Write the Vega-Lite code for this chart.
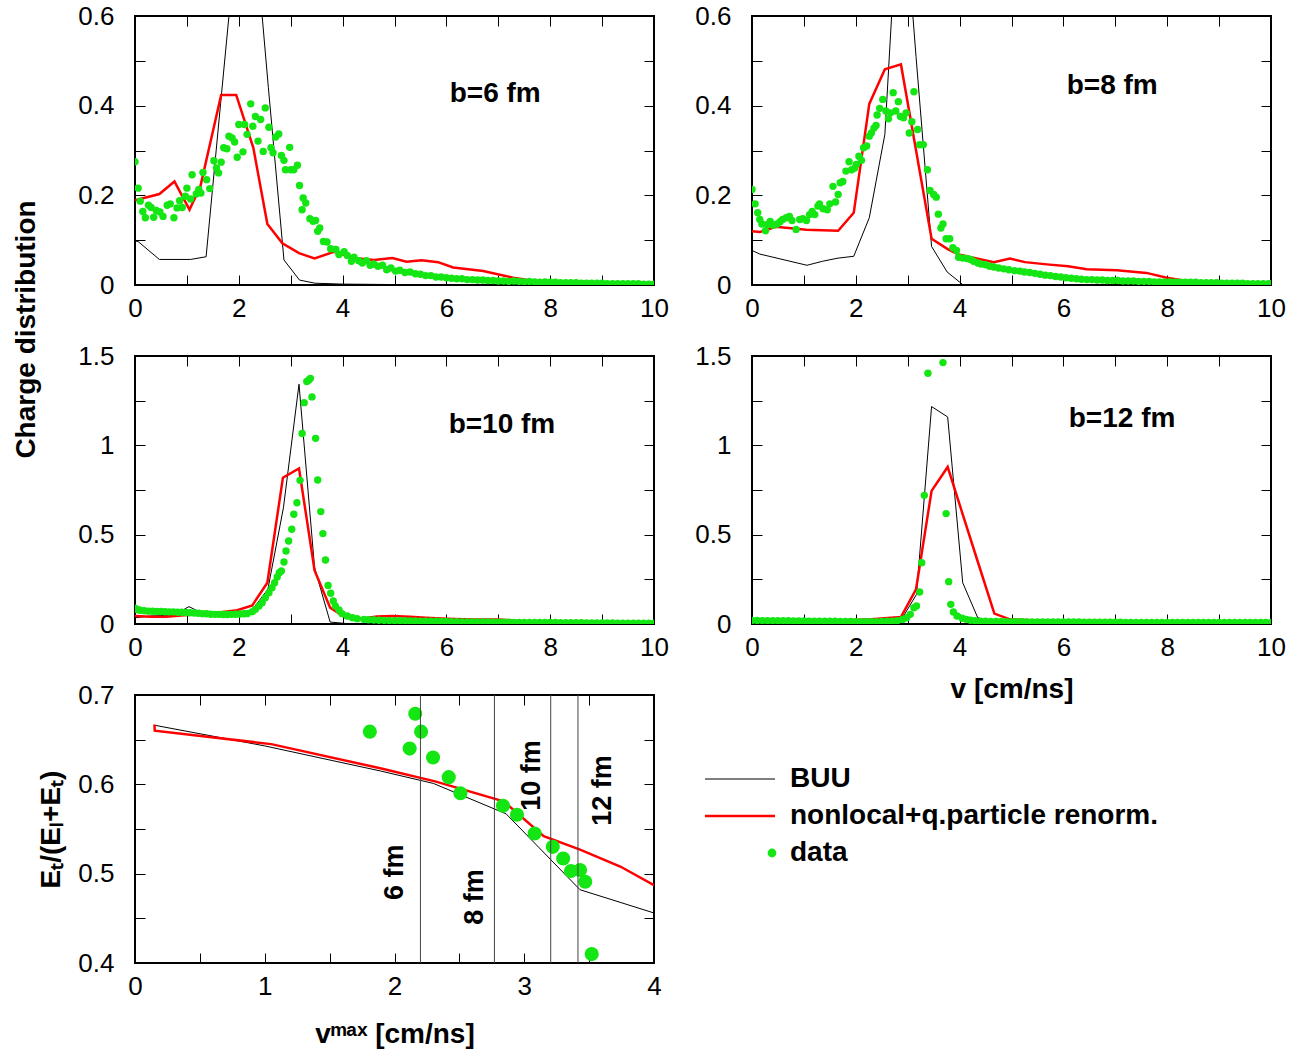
{
"$schema":"https://vega.github.io/schema/vega-lite/v6.json",
"background":"white",
"padding":{"left":11,"top":2,"right":5,"bottom":5},
"config":{
 "font":"Liberation Sans",
 "view":{"stroke":"black","strokeWidth":2},
 "axis":{"grid":false,"domain":false,"ticks":true,"tickColor":"black","tickWidth":1,"tickSize":-10,"labelFont":"Liberation Sans","labelFontSize":26,"labelColor":"black","labelFlush":false,"labelOverlap":false,"labelPadding":20,"titleFont":"Liberation Sans","titleFontSize":28,"titleFontWeight":"bold","titleColor":"black"},
 "axisY":{"labelPadding":31},
 "text":{"font":"Liberation Sans","color":"black"}
},
"datasets":{
 "b6b":[{"x":0,"y":0.099},{"x":0.07,"y":0.096},{"x":0.47,"y":0.057},{"x":1.07,"y":0.057},{"x":1.37,"y":0.063},{"x":1.67,"y":0.43},{"x":1.81,"y":0.6},{"x":2.45,"y":0.6},{"x":2.57,"y":0.44},{"x":2.87,"y":0.056},{"x":3.17,"y":0.011},{"x":3.47,"y":0.004},{"x":4.0,"y":0.002},{"x":5,"y":0.001},{"x":6,"y":0.001},{"x":7,"y":0.001},{"x":8,"y":0.001},{"x":9,"y":0.001},{"x":10,"y":0.001}],
 "b6m":[{"x":0,"y":0.189},{"x":0.47,"y":0.203},{"x":0.76,"y":0.231},{"x":1.05,"y":0.168},{"x":1.26,"y":0.22},{"x":1.66,"y":0.424},{"x":1.95,"y":0.424},{"x":2.28,"y":0.306},{"x":2.55,"y":0.136},{"x":2.84,"y":0.093},{"x":3.16,"y":0.071},{"x":3.46,"y":0.059},{"x":3.83,"y":0.074},{"x":4.22,"y":0.06},{"x":4.6,"y":0.056},{"x":4.96,"y":0.06},{"x":5.23,"y":0.052},{"x":5.52,"y":0.055},{"x":5.84,"y":0.051},{"x":6.13,"y":0.039},{"x":6.71,"y":0.031},{"x":7.29,"y":0.016},{"x":7.74,"y":0.008},{"x":8.2,"y":0.004},{"x":9,"y":0.003},{"x":10,"y":0.003}],
 "b6d":[{"x":0,"y":0.275},{"x":0.06,"y":0.216},{"x":0.1,"y":0.187},{"x":0.15,"y":0.164},{"x":0.2,"y":0.15},{"x":0.26,"y":0.178},{"x":0.31,"y":0.173},{"x":0.36,"y":0.151},{"x":0.41,"y":0.166},{"x":0.48,"y":0.163},{"x":0.54,"y":0.153},{"x":0.62,"y":0.178},{"x":0.68,"y":0.181},{"x":0.75,"y":0.15},{"x":0.81,"y":0.172},{"x":0.86,"y":0.188},{"x":0.91,"y":0.173},{"x":0.97,"y":0.198},{"x":1.0,"y":0.216},{"x":1.07,"y":0.192},{"x":1.1,"y":0.246},{"x":1.18,"y":0.203},{"x":1.23,"y":0.213},{"x":1.27,"y":0.205},{"x":1.31,"y":0.251},{"x":1.38,"y":0.235},{"x":1.44,"y":0.215},{"x":1.52,"y":0.277},{"x":1.57,"y":0.261},{"x":1.61,"y":0.25},{"x":1.66,"y":0.274},{"x":1.71,"y":0.306},{"x":1.77,"y":0.304},{"x":1.81,"y":0.332},{"x":1.87,"y":0.328},{"x":1.92,"y":0.319},{"x":1.97,"y":0.285},{"x":2.0,"y":0.358},{"x":2.08,"y":0.297},{"x":2.11,"y":0.358},{"x":2.16,"y":0.336},{"x":2.23,"y":0.404},{"x":2.27,"y":0.354},{"x":2.32,"y":0.376},{"x":2.37,"y":0.321},{"x":2.42,"y":0.369},{"x":2.47,"y":0.298},{"x":2.51,"y":0.395},{"x":2.58,"y":0.352},{"x":2.62,"y":0.306},{"x":2.66,"y":0.295},{"x":2.71,"y":0.33},{"x":2.77,"y":0.337},{"x":2.82,"y":0.289},{"x":2.87,"y":0.278},{"x":2.9,"y":0.257},{"x":2.98,"y":0.307},{"x":3.0,"y":0.257},{"x":3.06,"y":0.257},{"x":3.13,"y":0.267},{"x":3.17,"y":0.222},{"x":3.22,"y":0.168},{"x":3.24,"y":0.194},{"x":3.29,"y":0.183},{"x":3.37,"y":0.148},{"x":3.43,"y":0.142},{"x":3.48,"y":0.144},{"x":3.52,"y":0.12},{"x":3.56,"y":0.127},{"x":3.63,"y":0.097},{"x":3.7,"y":0.096},{"x":3.77,"y":0.081},{"x":3.87,"y":0.079},{"x":3.93,"y":0.068},{"x":4.03,"y":0.074},{"x":4.09,"y":0.066},{"x":4.17,"y":0.053},{"x":4.22,"y":0.062},{"x":4.31,"y":0.054},{"x":4.38,"y":0.049},{"x":4.46,"y":0.054},{"x":4.53,"y":0.044},{"x":4.6,"y":0.047},{"x":4.68,"y":0.042},{"x":4.77,"y":0.044},{"x":4.85,"y":0.034},{"x":4.93,"y":0.038},{"x":5.02,"y":0.031},{"x":5.1,"y":0.033},{"x":5.2,"y":0.028},{"x":5.3,"y":0.029},{"x":5.4,"y":0.025},{"x":5.5,"y":0.024},{"x":5.6,"y":0.021},{"x":5.7,"y":0.021},{"x":5.8,"y":0.018},{"x":5.9,"y":0.018},{"x":6.0,"y":0.016},{"x":6.1,"y":0.015},{"x":6.2,"y":0.014},{"x":6.3,"y":0.014},{"x":6.4,"y":0.012},{"x":6.5,"y":0.012},{"x":6.6,"y":0.011},{"x":6.7,"y":0.011},{"x":6.8,"y":0.01},{"x":6.9,"y":0.01},{"x":7.0,"y":0.009},{"x":7.1,"y":0.009},{"x":7.2,"y":0.008},{"x":7.3,"y":0.009},{"x":7.4,"y":0.008},{"x":7.5,"y":0.007},{"x":7.6,"y":0.008},{"x":7.7,"y":0.007},{"x":7.8,"y":0.006},{"x":7.9,"y":0.007},{"x":8.0,"y":0.006},{"x":8.1,"y":0.006},{"x":8.2,"y":0.005},{"x":8.3,"y":0.005},{"x":8.4,"y":0.005},{"x":8.5,"y":0.005},{"x":8.6,"y":0.004},{"x":8.7,"y":0.004},{"x":8.8,"y":0.004},{"x":8.9,"y":0.004},{"x":9.0,"y":0.004},{"x":9.1,"y":0.003},{"x":9.2,"y":0.003},{"x":9.3,"y":0.003},{"x":9.4,"y":0.003},{"x":9.5,"y":0.003},{"x":9.6,"y":0.003},{"x":9.7,"y":0.003},{"x":9.8,"y":0.002},{"x":9.9,"y":0.002},{"x":10.0,"y":0.002}],
 "b8b":[{"x":0,"y":0.077},{"x":0.15,"y":0.069},{"x":1.06,"y":0.044},{"x":1.36,"y":0.053},{"x":1.66,"y":0.06},{"x":1.96,"y":0.064},{"x":2.26,"y":0.15},{"x":2.56,"y":0.336},{"x":2.69,"y":0.6},{"x":3.1,"y":0.6},{"x":3.16,"y":0.51},{"x":3.46,"y":0.086},{"x":3.76,"y":0.029},{"x":4.06,"y":0.001},{"x":5,"y":0.001},{"x":6,"y":0.001},{"x":7,"y":0.001},{"x":8,"y":0.001},{"x":9,"y":0.001},{"x":10,"y":0.001}],
 "b8m":[{"x":0,"y":0.12},{"x":0.15,"y":0.118},{"x":0.46,"y":0.13},{"x":1.05,"y":0.123},{"x":1.66,"y":0.121},{"x":1.96,"y":0.161},{"x":2.26,"y":0.404},{"x":2.56,"y":0.481},{"x":2.87,"y":0.492},{"x":3.46,"y":0.103},{"x":3.77,"y":0.08},{"x":3.98,"y":0.068},{"x":4.66,"y":0.051},{"x":4.97,"y":0.059},{"x":5.26,"y":0.051},{"x":5.68,"y":0.046},{"x":6.09,"y":0.042},{"x":6.45,"y":0.035},{"x":7.03,"y":0.033},{"x":7.6,"y":0.027},{"x":7.99,"y":0.016},{"x":8.31,"y":0.01},{"x":8.8,"y":0.004},{"x":10,"y":0.003}],
 "b8d":[{"x":0,"y":0.213},{"x":0.06,"y":0.181},{"x":0.11,"y":0.161},{"x":0.15,"y":0.146},{"x":0.19,"y":0.136},{"x":0.26,"y":0.121},{"x":0.3,"y":0.135},{"x":0.35,"y":0.142},{"x":0.41,"y":0.133},{"x":0.48,"y":0.136},{"x":0.54,"y":0.141},{"x":0.59,"y":0.146},{"x":0.66,"y":0.15},{"x":0.72,"y":0.153},{"x":0.77,"y":0.144},{"x":0.85,"y":0.124},{"x":0.92,"y":0.146},{"x":0.98,"y":0.148},{"x":1.05,"y":0.144},{"x":1.11,"y":0.157},{"x":1.16,"y":0.164},{"x":1.21,"y":0.157},{"x":1.27,"y":0.176},{"x":1.3,"y":0.181},{"x":1.37,"y":0.17},{"x":1.45,"y":0.168},{"x":1.5,"y":0.181},{"x":1.56,"y":0.22},{"x":1.61,"y":0.185},{"x":1.66,"y":0.202},{"x":1.7,"y":0.228},{"x":1.75,"y":0.231},{"x":1.81,"y":0.254},{"x":1.87,"y":0.275},{"x":1.92,"y":0.257},{"x":1.98,"y":0.261},{"x":2.01,"y":0.269},{"x":2.06,"y":0.287},{"x":2.11,"y":0.278},{"x":2.15,"y":0.306},{"x":2.21,"y":0.31},{"x":2.26,"y":0.332},{"x":2.3,"y":0.339},{"x":2.35,"y":0.35},{"x":2.39,"y":0.356},{"x":2.41,"y":0.379},{"x":2.46,"y":0.394},{"x":2.52,"y":0.414},{"x":2.58,"y":0.388},{"x":2.63,"y":0.371},{"x":2.67,"y":0.384},{"x":2.72,"y":0.429},{"x":2.77,"y":0.388},{"x":2.82,"y":0.409},{"x":2.86,"y":0.376},{"x":2.92,"y":0.373},{"x":2.97,"y":0.384},{"x":3.03,"y":0.339},{"x":3.08,"y":0.364},{"x":3.12,"y":0.431},{"x":3.19,"y":0.347},{"x":3.23,"y":0.313},{"x":3.3,"y":0.313},{"x":3.38,"y":0.257},{"x":3.43,"y":0.211},{"x":3.5,"y":0.202},{"x":3.55,"y":0.196},{"x":3.59,"y":0.158},{"x":3.64,"y":0.127},{"x":3.68,"y":0.136},{"x":3.74,"y":0.103},{"x":3.81,"y":0.103},{"x":3.87,"y":0.083},{"x":3.94,"y":0.077},{"x":3.98,"y":0.062},{"x":4.06,"y":0.06},{"x":4.14,"y":0.059},{"x":4.21,"y":0.057},{"x":4.27,"y":0.053},{"x":4.35,"y":0.049},{"x":4.41,"y":0.047},{"x":4.5,"y":0.045},{"x":4.58,"y":0.042},{"x":4.66,"y":0.04},{"x":4.75,"y":0.038},{"x":4.85,"y":0.036},{"x":4.95,"y":0.034},{"x":5.06,"y":0.032},{"x":5.16,"y":0.031},{"x":5.25,"y":0.029},{"x":5.35,"y":0.028},{"x":5.45,"y":0.026},{"x":5.55,"y":0.024},{"x":5.65,"y":0.022},{"x":5.75,"y":0.021},{"x":5.85,"y":0.019},{"x":5.95,"y":0.018},{"x":6.05,"y":0.016},{"x":6.15,"y":0.015},{"x":6.25,"y":0.014},{"x":6.35,"y":0.013},{"x":6.45,"y":0.012},{"x":6.55,"y":0.012},{"x":6.65,"y":0.011},{"x":6.75,"y":0.011},{"x":6.85,"y":0.01},{"x":6.95,"y":0.01},{"x":7.05,"y":0.01},{"x":7.15,"y":0.009},{"x":7.25,"y":0.009},{"x":7.35,"y":0.009},{"x":7.45,"y":0.008},{"x":7.55,"y":0.008},{"x":7.65,"y":0.008},{"x":7.75,"y":0.007},{"x":7.85,"y":0.007},{"x":7.95,"y":0.007},{"x":8.05,"y":0.007},{"x":8.15,"y":0.006},{"x":8.25,"y":0.006},{"x":8.35,"y":0.006},{"x":8.45,"y":0.006},{"x":8.55,"y":0.006},{"x":8.65,"y":0.005},{"x":8.75,"y":0.005},{"x":8.85,"y":0.005},{"x":8.95,"y":0.005},{"x":9.05,"y":0.004},{"x":9.15,"y":0.004},{"x":9.25,"y":0.004},{"x":9.35,"y":0.004},{"x":9.45,"y":0.004},{"x":9.55,"y":0.003},{"x":9.65,"y":0.003},{"x":9.75,"y":0.003},{"x":9.85,"y":0.003},{"x":9.95,"y":0.003},{"x":10,"y":0.003}],
 "b10b":[{"x":0,"y":0.035},{"x":0.3,"y":0.045},{"x":0.75,"y":0.05},{"x":1.04,"y":0.097},{"x":1.3,"y":0.06},{"x":1.6,"y":0.055},{"x":1.9,"y":0.05},{"x":2.26,"y":0.08},{"x":2.56,"y":0.194},{"x":2.86,"y":0.651},{"x":3.16,"y":1.342},{"x":3.46,"y":0.315},{"x":3.76,"y":0.011},{"x":4.06,"y":0.003},{"x":5,"y":0.003},{"x":10,"y":0.003}],
 "b10m":[{"x":0,"y":0.045},{"x":0.3,"y":0.04},{"x":0.6,"y":0.04},{"x":1.0,"y":0.05},{"x":1.5,"y":0.06},{"x":1.97,"y":0.077},{"x":2.26,"y":0.104},{"x":2.55,"y":0.231},{"x":2.85,"y":0.819},{"x":3.16,"y":0.871},{"x":3.46,"y":0.3},{"x":3.76,"y":0.091},{"x":4.06,"y":0.035},{"x":4.36,"y":0.03},{"x":4.66,"y":0.042},{"x":4.96,"y":0.045},{"x":5.3,"y":0.04},{"x":5.6,"y":0.035},{"x":6.0,"y":0.03},{"x":6.5,"y":0.025},{"x":7.0,"y":0.025},{"x":7.5,"y":0.015},{"x":8.0,"y":0.008},{"x":8.5,"y":0.005},{"x":10,"y":0.003}],
 "b10d":[{"x":0,"y":0.088},{"x":0.05,"y":0.08},{"x":0.1,"y":0.077},{"x":0.18,"y":0.074},{"x":0.26,"y":0.072},{"x":0.34,"y":0.071},{"x":0.42,"y":0.07},{"x":0.5,"y":0.07},{"x":0.58,"y":0.069},{"x":0.66,"y":0.068},{"x":0.74,"y":0.068},{"x":0.82,"y":0.066},{"x":0.9,"y":0.066},{"x":0.98,"y":0.064},{"x":1.06,"y":0.063},{"x":1.14,"y":0.062},{"x":1.22,"y":0.06},{"x":1.3,"y":0.058},{"x":1.38,"y":0.057},{"x":1.46,"y":0.055},{"x":1.54,"y":0.054},{"x":1.62,"y":0.054},{"x":1.7,"y":0.053},{"x":1.78,"y":0.053},{"x":1.86,"y":0.054},{"x":1.94,"y":0.055},{"x":2.02,"y":0.056},{"x":2.1,"y":0.057},{"x":2.16,"y":0.058},{"x":2.26,"y":0.069},{"x":2.32,"y":0.082},{"x":2.39,"y":0.101},{"x":2.45,"y":0.119},{"x":2.51,"y":0.147},{"x":2.58,"y":0.175},{"x":2.64,"y":0.203},{"x":2.69,"y":0.231},{"x":2.74,"y":0.263},{"x":2.78,"y":0.287},{"x":2.82,"y":0.297},{"x":2.87,"y":0.347},{"x":2.91,"y":0.409},{"x":2.96,"y":0.465},{"x":3.02,"y":0.53},{"x":3.06,"y":0.614},{"x":3.12,"y":0.679},{"x":3.18,"y":0.804},{"x":3.22,"y":1.066},{"x":3.26,"y":1.239},{"x":3.31,"y":1.357},{"x":3.35,"y":1.366},{"x":3.38,"y":1.375},{"x":3.41,"y":1.271},{"x":3.48,"y":1.039},{"x":3.52,"y":0.806},{"x":3.58,"y":0.629},{"x":3.62,"y":0.506},{"x":3.67,"y":0.358},{"x":3.72,"y":0.216},{"x":3.77,"y":0.172},{"x":3.82,"y":0.129},{"x":3.86,"y":0.101},{"x":3.93,"y":0.078},{"x":3.99,"y":0.058},{"x":4.09,"y":0.045},{"x":4.19,"y":0.035},{"x":4.28,"y":0.03},{"x":4.41,"y":0.026},{"x":4.5,"y":0.024},{"x":4.6,"y":0.022},{"x":4.7,"y":0.021},{"x":4.8,"y":0.02},{"x":4.9,"y":0.019},{"x":5.0,"y":0.019},{"x":5.1,"y":0.018},{"x":5.2,"y":0.018},{"x":5.3,"y":0.017},{"x":5.4,"y":0.017},{"x":5.5,"y":0.016},{"x":5.6,"y":0.016},{"x":5.7,"y":0.015},{"x":5.8,"y":0.015},{"x":5.9,"y":0.014},{"x":6.0,"y":0.014},{"x":6.1,"y":0.013},{"x":6.2,"y":0.013},{"x":6.3,"y":0.012},{"x":6.4,"y":0.012},{"x":6.5,"y":0.012},{"x":6.6,"y":0.011},{"x":6.7,"y":0.011},{"x":6.8,"y":0.011},{"x":6.9,"y":0.01},{"x":7.0,"y":0.01},{"x":7.1,"y":0.01},{"x":7.2,"y":0.01},{"x":7.3,"y":0.009},{"x":7.4,"y":0.009},{"x":7.5,"y":0.009},{"x":7.6,"y":0.009},{"x":7.7,"y":0.008},{"x":7.8,"y":0.008},{"x":7.9,"y":0.008},{"x":8.0,"y":0.008},{"x":8.1,"y":0.008},{"x":8.2,"y":0.007},{"x":8.3,"y":0.007},{"x":8.4,"y":0.007},{"x":8.5,"y":0.007},{"x":8.6,"y":0.007},{"x":8.7,"y":0.006},{"x":8.8,"y":0.006},{"x":8.9,"y":0.006},{"x":9.0,"y":0.006},{"x":9.1,"y":0.006},{"x":9.2,"y":0.006},{"x":9.3,"y":0.005},{"x":9.4,"y":0.005},{"x":9.5,"y":0.005},{"x":9.6,"y":0.005},{"x":9.7,"y":0.005},{"x":9.8,"y":0.005},{"x":9.9,"y":0.005},{"x":10,"y":0.005}],
 "b12b":[{"x":0,"y":0.01},{"x":2.6,"y":0.01},{"x":2.9,"y":0.035},{"x":3.17,"y":0.166},{"x":3.46,"y":1.217},{"x":3.77,"y":1.159},{"x":4.06,"y":0.231},{"x":4.35,"y":0.035},{"x":4.66,"y":0.007},{"x":5,"y":0.003},{"x":10,"y":0.003}],
 "b12m":[{"x":0,"y":0.012},{"x":1.0,"y":0.012},{"x":2.3,"y":0.026},{"x":2.87,"y":0.039},{"x":3.16,"y":0.194},{"x":3.46,"y":0.745},{"x":3.77,"y":0.879},{"x":4.06,"y":0.614},{"x":4.36,"y":0.34},{"x":4.67,"y":0.058},{"x":4.97,"y":0.026},{"x":5.5,"y":0.02},{"x":6,"y":0.015},{"x":7,"y":0.01},{"x":8,"y":0.006},{"x":10,"y":0.004}],
 "b12d":[{"x":0,"y":0.02},{"x":0.1,"y":0.02},{"x":0.2,"y":0.019},{"x":0.3,"y":0.019},{"x":0.4,"y":0.019},{"x":0.5,"y":0.018},{"x":0.6,"y":0.018},{"x":0.7,"y":0.018},{"x":0.8,"y":0.017},{"x":0.9,"y":0.017},{"x":1.0,"y":0.017},{"x":1.1,"y":0.016},{"x":1.2,"y":0.016},{"x":1.3,"y":0.016},{"x":1.4,"y":0.015},{"x":1.5,"y":0.015},{"x":1.6,"y":0.015},{"x":1.7,"y":0.014},{"x":1.8,"y":0.014},{"x":1.9,"y":0.014},{"x":2.0,"y":0.013},{"x":2.1,"y":0.013},{"x":2.2,"y":0.013},{"x":2.3,"y":0.013},{"x":2.4,"y":0.013},{"x":2.5,"y":0.014},{"x":2.6,"y":0.015},{"x":2.7,"y":0.016},{"x":2.8,"y":0.019},{"x":2.9,"y":0.025},{"x":2.98,"y":0.035},{"x":3.05,"y":0.054},{"x":3.12,"y":0.091},{"x":3.17,"y":0.101},{"x":3.23,"y":0.179},{"x":3.27,"y":0.343},{"x":3.32,"y":0.72},{"x":3.39,"y":1.403},{"x":3.68,"y":1.463},{"x":3.74,"y":0.618},{"x":3.79,"y":0.237},{"x":3.83,"y":0.11},{"x":3.88,"y":0.067},{"x":3.95,"y":0.045},{"x":4.05,"y":0.032},{"x":4.13,"y":0.026},{"x":4.21,"y":0.021},{"x":4.3,"y":0.018},{"x":4.4,"y":0.016},{"x":4.5,"y":0.015},{"x":4.6,"y":0.014},{"x":4.7,"y":0.014},{"x":4.8,"y":0.014},{"x":4.9,"y":0.013},{"x":5.0,"y":0.013},{"x":5.1,"y":0.013},{"x":5.2,"y":0.013},{"x":5.3,"y":0.012},{"x":5.4,"y":0.012},{"x":5.5,"y":0.012},{"x":5.6,"y":0.012},{"x":5.7,"y":0.012},{"x":5.8,"y":0.011},{"x":5.9,"y":0.011},{"x":6.0,"y":0.011},{"x":6.1,"y":0.011},{"x":6.2,"y":0.011},{"x":6.3,"y":0.011},{"x":6.4,"y":0.01},{"x":6.5,"y":0.01},{"x":6.6,"y":0.01},{"x":6.7,"y":0.01},{"x":6.8,"y":0.01},{"x":6.9,"y":0.01},{"x":7.0,"y":0.01},{"x":7.1,"y":0.01},{"x":7.2,"y":0.009},{"x":7.3,"y":0.009},{"x":7.4,"y":0.009},{"x":7.5,"y":0.009},{"x":7.6,"y":0.009},{"x":7.7,"y":0.009},{"x":7.8,"y":0.009},{"x":7.9,"y":0.009},{"x":8.0,"y":0.009},{"x":8.1,"y":0.009},{"x":8.2,"y":0.008},{"x":8.3,"y":0.008},{"x":8.4,"y":0.008},{"x":8.5,"y":0.008},{"x":8.6,"y":0.008},{"x":8.7,"y":0.008},{"x":8.8,"y":0.008},{"x":8.9,"y":0.008},{"x":9.0,"y":0.008},{"x":9.1,"y":0.008},{"x":9.2,"y":0.008},{"x":9.3,"y":0.008},{"x":9.4,"y":0.008},{"x":9.5,"y":0.008},{"x":9.6,"y":0.008},{"x":9.7,"y":0.008},{"x":9.8,"y":0.008},{"x":9.9,"y":0.008},{"x":10,"y":0.008}],
 "et":[{"x":0.156,"y":0.666,"s":"BUU"},{"x":1.0,"y":0.643,"s":"BUU"},{"x":1.89,"y":0.615,"s":"BUU"},{"x":2.3,"y":0.601,"s":"BUU"},{"x":2.86,"y":0.567,"s":"BUU"},{"x":3.43,"y":0.482,"s":"BUU"},{"x":4.0,"y":0.456,"s":"BUU"},
  {"x":0.15,"y":0.667,"s":"nonlocal+q.particle renorm."},{"x":0.152,"y":0.66,"s":"nonlocal+q.particle renorm."},{"x":1.05,"y":0.645,"s":"nonlocal+q.particle renorm."},{"x":1.89,"y":0.618,"s":"nonlocal+q.particle renorm."},{"x":2.32,"y":0.603,"s":"nonlocal+q.particle renorm."},{"x":2.84,"y":0.581,"s":"nonlocal+q.particle renorm."},{"x":3.15,"y":0.542,"s":"nonlocal+q.particle renorm."},{"x":3.43,"y":0.527,"s":"nonlocal+q.particle renorm."},{"x":3.74,"y":0.508,"s":"nonlocal+q.particle renorm."},{"x":4.0,"y":0.487,"s":"nonlocal+q.particle renorm."},
  {"x":1.81,"y":0.659,"s":"data"},{"x":2.16,"y":0.679,"s":"data"},{"x":2.205,"y":0.659,"s":"data"},{"x":2.117,"y":0.64,"s":"data"},{"x":2.297,"y":0.63,"s":"data"},{"x":2.418,"y":0.608,"s":"data"},{"x":2.508,"y":0.59,"s":"data"},{"x":2.836,"y":0.576,"s":"data"},{"x":2.944,"y":0.566,"s":"data"},{"x":3.08,"y":0.545,"s":"data"},{"x":3.22,"y":0.53,"s":"data"},{"x":3.3,"y":0.517,"s":"data"},{"x":3.36,"y":0.503,"s":"data"},{"x":3.43,"y":0.504,"s":"data"},{"x":3.47,"y":0.491,"s":"data"},{"x":3.52,"y":0.41,"s":"data"}],
 "fm":[{"x":2.2,"lx":2.006,"ly":0.5015,"t":"6 fm"},{"x":2.77,"lx":2.62,"ly":0.474,"t":"8 fm"},{"x":3.204,"lx":3.06,"ly":0.61,"t":"10 fm"},{"x":3.414,"lx":3.61,"ly":0.593,"t":"12 fm"}]
},
"columns":2,
"spacing":{"row":71,"column":98},
"bounds":"flush",
"concat":[
  {"width":519,"height":269,
   "layer":[
    {"data":{"name":"b6b"},"mark":{"type":"line","color":"black","strokeWidth":1,"clip":true},
     "encoding":{"x":{"field":"x","type":"quantitative","scale":{"domain":[0,10],"nice":false},"axis":{"values":[0,1,2,3,4,5,6,7,8,9,10],"labelExpr":"datum.value % 2 == 0 ? toString(datum.value) : ''","title":null}},
                 "y":{"field":"y","type":"quantitative","scale":{"domain":[0,0.6],"nice":false},"axis":{"values":[0,0.1,0.2,0.3,0.4,0.5,0.6],"labelExpr":"round(datum.value*10) % 2 == 0 ? toString(datum.value) : ''","title":"Charge distribution","titleX":-95,"titleY":313}}}},
    {"data":{"name":"b6m"},"mark":{"type":"line","color":"#ff0000","strokeWidth":2.5,"clip":true},
     "encoding":{"x":{"field":"x","type":"quantitative","scale":{"domain":[0,10]},"axis":null},"y":{"field":"y","type":"quantitative","scale":{"domain":[0,0.6]},"axis":null}}},
    {"data":{"name":"b6d"},"mark":{"type":"circle","color":"#14e614","size":55,"opacity":1,"clip":true},
     "encoding":{"x":{"field":"x","type":"quantitative","scale":{"domain":[0,10]},"axis":null},"y":{"field":"y","type":"quantitative","scale":{"domain":[0,0.6]},"axis":null}}},
    {"data":{"values":[{"x":6.94,"y":0.426,"t":"b=6 fm"}]},"mark":{"type":"text","fontSize":28,"fontWeight":"bold"},
     "encoding":{"x":{"field":"x","type":"quantitative","scale":{"domain":[0,10]},"axis":null},"y":{"field":"y","type":"quantitative","scale":{"domain":[0,0.6]},"axis":null},"text":{"field":"t"}}},
    {"data":{"name":"b6b"},"mark":{"type":"point","opacity":0},
     "encoding":{"x":{"field":"x","type":"quantitative","scale":{"domain":[0,10]},"axis":{"orient":"top","values":[0,1,2,3,4,5,6,7,8,9,10],"labels":false,"title":null}},"y":{"field":"y","type":"quantitative","scale":{"domain":[0,0.6]},"axis":{"orient":"right","values":[0,0.1,0.2,0.3,0.4,0.5,0.6],"labels":false,"title":null}}}}
   ],
   "resolve":{"axis":{"x":"independent","y":"independent"}}},
  {"width":519,"height":269,
   "layer":[
    {"data":{"name":"b8b"},"mark":{"type":"line","color":"black","strokeWidth":1,"clip":true},
     "encoding":{"x":{"field":"x","type":"quantitative","scale":{"domain":[0,10],"nice":false},"axis":{"values":[0,1,2,3,4,5,6,7,8,9,10],"labelExpr":"datum.value % 2 == 0 ? toString(datum.value) : ''","title":null}},
                 "y":{"field":"y","type":"quantitative","scale":{"domain":[0,0.6],"nice":false},"axis":{"values":[0,0.1,0.2,0.3,0.4,0.5,0.6],"labelExpr":"round(datum.value*10) % 2 == 0 ? toString(datum.value) : ''","title":null}}}},
    {"data":{"name":"b8m"},"mark":{"type":"line","color":"#ff0000","strokeWidth":2.5,"clip":true},
     "encoding":{"x":{"field":"x","type":"quantitative","scale":{"domain":[0,10]},"axis":null},"y":{"field":"y","type":"quantitative","scale":{"domain":[0,0.6]},"axis":null}}},
    {"data":{"name":"b8d"},"mark":{"type":"circle","color":"#14e614","size":55,"opacity":1,"clip":true},
     "encoding":{"x":{"field":"x","type":"quantitative","scale":{"domain":[0,10]},"axis":null},"y":{"field":"y","type":"quantitative","scale":{"domain":[0,0.6]},"axis":null}}},
    {"data":{"values":[{"x":6.94,"y":0.444,"t":"b=8 fm"}]},"mark":{"type":"text","fontSize":28,"fontWeight":"bold"},
     "encoding":{"x":{"field":"x","type":"quantitative","scale":{"domain":[0,10]},"axis":null},"y":{"field":"y","type":"quantitative","scale":{"domain":[0,0.6]},"axis":null},"text":{"field":"t"}}},
    {"data":{"name":"b8b"},"mark":{"type":"point","opacity":0},
     "encoding":{"x":{"field":"x","type":"quantitative","scale":{"domain":[0,10]},"axis":{"orient":"top","values":[0,1,2,3,4,5,6,7,8,9,10],"labels":false,"title":null}},"y":{"field":"y","type":"quantitative","scale":{"domain":[0,0.6]},"axis":{"orient":"right","values":[0,0.1,0.2,0.3,0.4,0.5,0.6],"labels":false,"title":null}}}}
   ],
   "resolve":{"axis":{"x":"independent","y":"independent"}}},
  {"width":519,"height":268,
   "layer":[
    {"data":{"name":"b10b"},"mark":{"type":"line","color":"black","strokeWidth":1,"clip":true},
     "encoding":{"x":{"field":"x","type":"quantitative","scale":{"domain":[0,10],"nice":false},"axis":{"values":[0,1,2,3,4,5,6,7,8,9,10],"labelExpr":"datum.value % 2 == 0 ? toString(datum.value) : ''","title":null}},
                 "y":{"field":"y","type":"quantitative","scale":{"domain":[0,1.5],"nice":false},"axis":{"values":[0,0.25,0.5,0.75,1,1.25,1.5],"labelExpr":"round(datum.value*4) % 2 == 0 ? toString(datum.value) : ''","title":null}}}},
    {"data":{"name":"b10m"},"mark":{"type":"line","color":"#ff0000","strokeWidth":2.5,"clip":true},
     "encoding":{"x":{"field":"x","type":"quantitative","scale":{"domain":[0,10]},"axis":null},"y":{"field":"y","type":"quantitative","scale":{"domain":[0,1.5]},"axis":null}}},
    {"data":{"name":"b10d"},"mark":{"type":"circle","color":"#14e614","size":55,"opacity":1,"clip":true},
     "encoding":{"x":{"field":"x","type":"quantitative","scale":{"domain":[0,10]},"axis":null},"y":{"field":"y","type":"quantitative","scale":{"domain":[0,1.5]},"axis":null}}},
    {"data":{"values":[{"x":7.07,"y":1.114,"t":"b=10 fm"}]},"mark":{"type":"text","fontSize":28,"fontWeight":"bold"},
     "encoding":{"x":{"field":"x","type":"quantitative","scale":{"domain":[0,10]},"axis":null},"y":{"field":"y","type":"quantitative","scale":{"domain":[0,1.5]},"axis":null},"text":{"field":"t"}}},
    {"data":{"name":"b10b"},"mark":{"type":"point","opacity":0},
     "encoding":{"x":{"field":"x","type":"quantitative","scale":{"domain":[0,10]},"axis":{"orient":"top","values":[0,1,2,3,4,5,6,7,8,9,10],"labels":false,"title":null}},"y":{"field":"y","type":"quantitative","scale":{"domain":[0,1.5]},"axis":{"orient":"right","values":[0,0.25,0.5,0.75,1,1.25,1.5],"labels":false,"title":null}}}}
   ],
   "resolve":{"axis":{"x":"independent","y":"independent"}}},
  {"width":519,"height":268,
   "layer":[
    {"data":{"name":"b12b"},"mark":{"type":"line","color":"black","strokeWidth":1,"clip":true},
     "encoding":{"x":{"field":"x","type":"quantitative","scale":{"domain":[0,10],"nice":false},"axis":{"values":[0,1,2,3,4,5,6,7,8,9,10],"labelExpr":"datum.value % 2 == 0 ? toString(datum.value) : ''","title":"v [cm/ns]","titlePadding":15}},
                 "y":{"field":"y","type":"quantitative","scale":{"domain":[0,1.5],"nice":false},"axis":{"values":[0,0.25,0.5,0.75,1,1.25,1.5],"labelExpr":"round(datum.value*4) % 2 == 0 ? toString(datum.value) : ''","title":null}}}},
    {"data":{"name":"b12m"},"mark":{"type":"line","color":"#ff0000","strokeWidth":2.5,"clip":true},
     "encoding":{"x":{"field":"x","type":"quantitative","scale":{"domain":[0,10]},"axis":null},"y":{"field":"y","type":"quantitative","scale":{"domain":[0,1.5]},"axis":null}}},
    {"data":{"name":"b12d"},"mark":{"type":"circle","color":"#14e614","size":55,"opacity":1,"clip":true},
     "encoding":{"x":{"field":"x","type":"quantitative","scale":{"domain":[0,10]},"axis":null},"y":{"field":"y","type":"quantitative","scale":{"domain":[0,1.5]},"axis":null}}},
    {"data":{"values":[{"x":7.13,"y":1.147,"t":"b=12 fm"}]},"mark":{"type":"text","fontSize":28,"fontWeight":"bold"},
     "encoding":{"x":{"field":"x","type":"quantitative","scale":{"domain":[0,10]},"axis":null},"y":{"field":"y","type":"quantitative","scale":{"domain":[0,1.5]},"axis":null},"text":{"field":"t"}}},
    {"data":{"name":"b12b"},"mark":{"type":"point","opacity":0},
     "encoding":{"x":{"field":"x","type":"quantitative","scale":{"domain":[0,10]},"axis":{"orient":"top","values":[0,1,2,3,4,5,6,7,8,9,10],"labels":false,"title":null}},"y":{"field":"y","type":"quantitative","scale":{"domain":[0,1.5]},"axis":{"orient":"right","values":[0,0.25,0.5,0.75,1,1.25,1.5],"labels":false,"title":null}}}}
   ],
   "resolve":{"axis":{"x":"independent","y":"independent"}}},
 {"width":519,"height":268,
  "layer":[
   {"data":{"name":"et"},"transform":[{"filter":"datum.s != 'data'"}],"mark":{"type":"line","clip":true},
    "encoding":{"x":{"field":"x","type":"quantitative","scale":{"domain":[0,4],"nice":false},"axis":{"values":[0,0.5,1,1.5,2,2.5,3,3.5,4],"labelExpr":"datum.value % 1 == 0 ? toString(datum.value) : ''","title":"vᵐᵃˣ [cm/ns]","titlePadding":21}},
                "y":{"field":"y","type":"quantitative","scale":{"domain":[0.4,0.7],"nice":false,"zero":false},"axis":{"values":[0.4,0.45,0.5,0.55,0.6,0.65,0.7],"labelExpr":"round(datum.value*20) % 2 == 0 ? toString(datum.value) : ''","title":"Eₜ/(Eₗ+Eₜ)","titlePadding":12}},
                "color":{"field":"s","type":"nominal","scale":{"domain":["BUU","nonlocal+q.particle renorm.","data"],"range":["black","#ff0000","#14e614"]},
                   "legend":{"orient":"none","legendX":570,"legendY":749,"title":null,"symbolType":"stroke","symbolStrokeWidth":2,"labelFont":"Liberation Sans","labelFontSize":28,"labelFontWeight":"bold","labelColor":"black","labelLimit":600,"labelOffset":57,"rowPadding":9,
                     "encode":{"symbols":{"update":{
                       "x":{"signal":"datum.value === 'data' ? 67 : 35"},
                       "shape":{"signal":"datum.value === 'data' ? 'circle' : 'stroke'"},
                       "size":{"signal":"datum.value === 'data' ? 40 : 4900"},
                       "strokeWidth":{"signal":"datum.value === 'BUU' ? 1 : 2.5"},
                       "fill":{"signal":"datum.value === 'data' ? '#14e614' : 'transparent'"},
                       "stroke":{"signal":"datum.value === 'BUU' ? 'black' : (datum.value === 'data' ? 'transparent' : '#ff0000')"},
                       "opacity":{"value":1}}}}}},
                "strokeWidth":{"field":"s","type":"nominal","scale":{"domain":["BUU","nonlocal+q.particle renorm."],"range":[1,2.5]},"legend":null}}},
   {"data":{"name":"et"},"transform":[{"filter":"datum.s == 'data'"}],"mark":{"type":"circle","size":200,"opacity":1,"clip":true},
    "encoding":{"x":{"field":"x","type":"quantitative","scale":{"domain":[0,4]},"axis":null},"y":{"field":"y","type":"quantitative","scale":{"domain":[0.4,0.7]},"axis":null},"color":{"field":"s","type":"nominal"}}},
   {"data":{"name":"fm"},"mark":{"type":"rule","color":"#444444","strokeWidth":1},
    "encoding":{"x":{"field":"x","type":"quantitative","scale":{"domain":[0,4]},"axis":null}}},
   {"data":{"name":"fm"},"mark":{"type":"text","angle":270,"fontSize":27,"fontWeight":"bold"},
    "encoding":{"x":{"field":"lx","type":"quantitative","scale":{"domain":[0,4]},"axis":null},"y":{"field":"ly","type":"quantitative","scale":{"domain":[0.4,0.7]},"axis":null},"text":{"field":"t"}}},
   {"data":{"name":"et"},"mark":{"type":"point","opacity":0},
    "encoding":{"x":{"field":"x","type":"quantitative","scale":{"domain":[0,4]},"axis":{"orient":"top","values":[0,0.5,1,1.5,2,2.5,3,3.5,4],"labels":false,"title":null}},"y":{"field":"y","type":"quantitative","scale":{"domain":[0.4,0.7]},"axis":{"orient":"right","values":[0.4,0.45,0.5,0.55,0.6,0.65,0.7],"labels":false,"title":null}}}}
  ],
  "resolve":{"axis":{"x":"independent","y":"independent"}}}
]
}
